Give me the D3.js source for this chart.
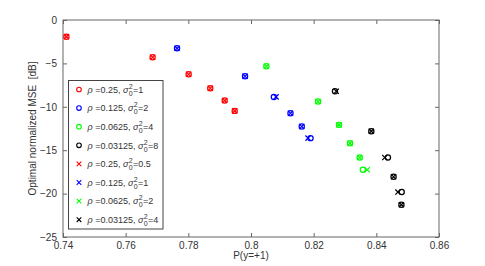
<!DOCTYPE html>
<html><head><meta charset="utf-8">
<script src="https://cdn.jsdelivr.net/npm/d3@7"></script>
<style>body{margin:0;background:#fff}svg{display:block}text{font-family:"Liberation Sans",Arial,sans-serif}</style>
</head><body>
<script>
const xTicks = [0.74, 0.76, 0.78, 0.8, 0.82, 0.84, 0.86];
const yTicks = [0, -5, -10, -15, -20, -25];
const xLabel = "P(y=+1)";
const yLabel = "Optimal normalized MSE  [dB]";
const colors = ["#ff0000", "#0000ff", "#00ff00", "#000000"];
const rhoLabels = ["0.25", "0.125", "0.0625", "0.03125"];
const sigmaCircle = ["1", "2", "4", "8"];
const sigmaCross = ["0.5", "1", "2", "4"];

// circle series (x, y)
const circRedX = [0.7411, 0.7686, 0.7801, 0.7870, 0.7916, 0.7948];
const circRedY = [-1.92, -4.29, -6.25, -7.86, -9.28, -10.47];
const circBlueX = [0.7764, 0.7981, 0.8073, 0.8126, 0.8162, 0.8190];
const circBlueY = [-3.26, -6.48, -8.86, -10.74, -12.27, -13.61];
const circGreenX = [0.8049, 0.8214, 0.8281, 0.8316, 0.8347, 0.8357];
const circGreenY = [-5.33, -9.39, -12.08, -14.19, -15.84, -17.25];
const circBlackX = [0.8268, 0.8384, 0.8437, 0.8455, 0.8481, 0.8480];
const circBlackY = [-8.21, -12.81, -15.84, -18.06, -19.82, -21.28];
// cross series
const crossRedX = [0.7411, 0.7686, 0.7801, 0.7870, 0.7916, 0.7948];
const crossRedY = [-1.92, -4.29, -6.25, -7.86, -9.28, -10.47];
const crossBlueX = [0.7764, 0.7981, 0.8080, 0.8126, 0.8162, 0.8182];
const crossBlueY = [-3.26, -6.48, -8.86, -10.74, -12.27, -13.61];
const crossGreenX = [0.8049, 0.8214, 0.8281, 0.8316, 0.8347, 0.8371];
const crossGreenY = [-5.33, -9.39, -12.08, -14.19, -15.84, -17.25];
const crossBlackX = [0.8272, 0.8384, 0.8427, 0.8455, 0.8469, 0.8480];
const crossBlackY = [-8.21, -12.81, -15.84, -18.06, -19.82, -21.28];

const circleSeries = [[circRedX, circRedY], [circBlueX, circBlueY], [circGreenX, circGreenY], [circBlackX, circBlackY]];
const crossSeries = [[crossRedX, crossRedY], [crossBlueX, crossBlueY], [crossGreenX, crossGreenY], [crossBlackX, crossBlackY]];

const W = 485, H = 266;
const L = 63, R = 439, T = 20, B = 237;
const svg = d3.select("body").append("svg").attr("width", W).attr("height", H);
const x = d3.scaleLinear().domain([0.74, 0.86]).range([L, R]);
const y = d3.scaleLinear().domain([-25, 0]).range([B, T]);
const axisColor = "#666";
const textColor = "#333";

// box
svg.append("rect").attr("x", L).attr("y", T).attr("width", R - L).attr("height", B - T)
  .attr("fill", "#fff").attr("stroke", axisColor).attr("stroke-width", 1);

function styleAxis(g) {
  g.select(".domain").remove();
  g.selectAll(".tick line").attr("stroke", axisColor);
  g.selectAll(".tick text").attr("fill", textColor).style("font-size", "10px");
}
svg.append("g").attr("transform", `translate(0,${B})`)
  .call(d3.axisBottom(x).tickValues(xTicks).tickSizeInner(-4).tickSizeOuter(0).tickPadding(3).tickFormat(d3.format("")))
  .call(styleAxis).selectAll(".tick text").attr("dy", "0.9em");
svg.append("g").attr("transform", `translate(0,${T})`)
  .call(d3.axisTop(x).tickValues(xTicks).tickSizeInner(-4).tickSizeOuter(0).tickFormat(""))
  .call(styleAxis);
svg.append("g").attr("transform", `translate(${L},0)`)
  .call(d3.axisLeft(y).tickValues(yTicks).tickSizeInner(-4).tickSizeOuter(0).tickPadding(6).tickFormat(d3.format("")))
  .call(styleAxis);
svg.append("g").attr("transform", `translate(${R},0)`)
  .call(d3.axisRight(y).tickValues(yTicks).tickSizeInner(-4).tickSizeOuter(0).tickFormat(""))
  .call(styleAxis);
svg.selectAll(".tick text").style("font-family", "Liberation Sans, Arial, sans-serif");
svg.selectAll("g").attr("font-family", null);

// axis labels
svg.append("text").attr("x", (L + R) / 2).attr("y", 259).attr("text-anchor", "middle")
  .attr("fill", textColor).style("font-size", "10px").text(xLabel);
svg.append("text").attr("transform", `translate(36,${(T + B) / 2}) rotate(-90)`).attr("text-anchor", "middle")
  .attr("fill", textColor).style("font-size", "10px").style("white-space", "pre").text(yLabel);

function drawCircle(g, cx, cy, c) {
  g.append("circle").attr("cx", cx).attr("cy", cy).attr("r", 2.6)
    .attr("fill", "none").attr("stroke", c).attr("stroke-width", 1.25);
}
function drawCross(g, cx, cy, c) {
  const s = 2.6;
  g.append("path").attr("d", `M${cx - s},${cy - s}L${cx + s},${cy + s}M${cx - s},${cy + s}L${cx + s},${cy - s}`)
    .attr("stroke", c).attr("stroke-width", 1.25).attr("fill", "none");
}

const pts = svg.append("g");
circleSeries.forEach(([xs, ys], i) => xs.forEach((v, j) => drawCircle(pts, x(v), y(ys[j]), colors[i])));
crossSeries.forEach(([xs, ys], i) => xs.forEach((v, j) => drawCross(pts, x(v), y(ys[j]), colors[i])));

// legend
const lg = svg.append("g");
const lx0 = 68.5, ly0 = 80.5, lx1 = 163, ly1 = 229;
lg.append("rect").attr("x", lx0).attr("y", ly0).attr("width", lx1 - lx0).attr("height", ly1 - ly0)
  .attr("fill", "#fff").attr("stroke", "#444").attr("stroke-width", 1);
const entries = [];
rhoLabels.forEach((r, i) => entries.push({ type: "o", c: colors[i], rho: r, s: sigmaCircle[i] }));
rhoLabels.forEach((r, i) => entries.push({ type: "x", c: colors[i], rho: r, s: sigmaCross[i] }));
entries.forEach((e, k) => {
  const cy = 89.5 + k * 18.6;
  if (e.type === "o") {
    lg.append("circle").attr("cx", 79).attr("cy", cy).attr("r", 2.3).attr("fill", "none").attr("stroke", e.c).attr("stroke-width", 1.1);
  } else {
    const s = 2.3;
    lg.append("path").attr("d", `M${79 - s},${cy - s}L${79 + s},${cy + s}M${79 - s},${cy + s}L${79 + s},${cy - s}`)
      .attr("stroke", e.c).attr("stroke-width", 1.1);
  }
  const tx = 87.5, base = cy + 3.2;
  const t1 = lg.append("text").attr("x", tx).attr("y", base).attr("fill", textColor).style("font-size", "9px").style("white-space", "pre");
  t1.append("tspan").style("font-style", "italic").text("\u03C1");
  t1.append("tspan").text(" =" + e.rho + ", ");
  t1.append("tspan").style("font-style", "italic").text("\u03C3");
  const w1 = t1.node().getComputedTextLength();
  const sup = lg.append("text").attr("x", tx + w1 + 0.3).attr("y", base - 4).attr("fill", textColor).style("font-size", "7px").text("2");
  lg.append("text").attr("x", tx + w1 + 0.3).attr("y", base + 3).attr("fill", textColor).style("font-size", "7px").text("0");
  const w2 = sup.node().getComputedTextLength();
  lg.append("text").attr("x", tx + w1 + w2 + 0.6).attr("y", base).attr("fill", textColor).style("font-size", "9px").text("=" + e.s);
});
</script>
</body></html>
